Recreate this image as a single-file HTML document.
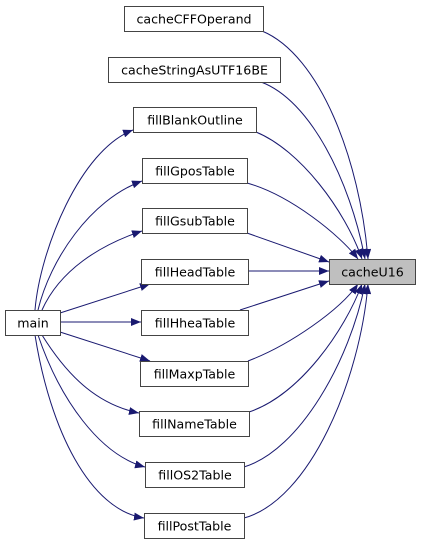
<!DOCTYPE html>
<html><head><meta charset="utf-8"><style>
html,body{margin:0;padding:0;background:#fff;}
text{font-family:"DejaVu Sans","Liberation Sans",sans-serif;font-size:12.6px;fill:#000;}
</style></head><body>
<svg width="421" height="544" viewBox="0 0 421 544" xmlns="http://www.w3.org/2000/svg">
<defs>
<marker id="a" markerUnits="userSpaceOnUse" markerWidth="11" markerHeight="8" refX="10" refY="4" orient="auto">
<path d="M0,0 L10,4 L0,8 z" fill="#191970"/>
</marker>
</defs>
<g fill="none" stroke="#191970" stroke-width="1" marker-end="url(#a)">
<path d="M262,31 C320,55 360,160 368,259"/>
<path d="M261,82 C310,100 350,180 365,259"/>
<path d="M256,132 C300,150 345,210 362,259"/>
<path d="M247,183 C290,195 340,235 358,259"/>
<path d="M247,233 L329,262"/>
<path d="M248,271 L329,271"/>
<path d="M240,310 L329,281"/>
<path d="M248,361 C290,345 340,310 358,284"/>
<path d="M249,412 C300,395 345,330 362,284"/>
<path d="M244,467 C300,450 350,360 365,284"/>
<path d="M244,518 C310,500 360,380 368,284"/>
<path d="M35,310 C40,250 80,150 133,130"/>
<path d="M38,310 C50,260 90,200 142,181"/>
<path d="M42,310 C60,270 100,245 142,231"/>
<path d="M60,313 L150,284"/>
<path d="M60,322 L141,322"/>
<path d="M60,332 L150,361"/>
<path d="M42,335 C70,380 100,405 139,413"/>
<path d="M38,335 C60,400 100,455 145,467"/>
<path d="M35,335 C50,430 90,510 144,518"/>
</g>
<g stroke="#444" stroke-width="1" fill="#fff">
<rect x="124.5" y="6.5" width="139" height="25"/>
<rect x="108.5" y="57.5" width="172" height="25"/>
<rect x="133.5" y="107.5" width="123" height="25"/>
<rect x="142.5" y="158.5" width="105" height="25"/>
<rect x="142.5" y="208.5" width="105" height="25"/>
<rect x="141.5" y="259.5" width="107" height="25"/>
<rect x="141.5" y="310.5" width="107" height="25"/>
<rect x="140.5" y="361.5" width="108" height="25"/>
<rect x="139.5" y="411.5" width="110" height="25"/>
<rect x="145.5" y="462.5" width="99" height="25"/>
<rect x="144.5" y="513.5" width="100" height="25"/>
<rect x="5.5" y="310.5" width="55" height="25"/>
<rect x="329.5" y="259.5" width="86" height="25" fill="#bfbfbf"/>
</g>
<g text-anchor="middle">
<text x="194" y="23.5">cacheCFFOperand</text>
<text x="194.5" y="74.5">cacheStringAsUTF16BE</text>
<text x="195" y="124.5">fillBlankOutline</text>
<text x="195" y="175.5">fillGposTable</text>
<text x="195" y="225.5">fillGsubTable</text>
<text x="195" y="276.5">fillHeadTable</text>
<text x="195" y="327.5">fillHheaTable</text>
<text x="194.5" y="378.5">fillMaxpTable</text>
<text x="194.5" y="428.5">fillNameTable</text>
<text x="195" y="479.5">fillOS2Table</text>
<text x="194.5" y="530.5">fillPostTable</text>
<text x="33" y="327.5">main</text>
<text x="372.5" y="276.5">cacheU16</text>
</g>
</svg>
</body></html>
